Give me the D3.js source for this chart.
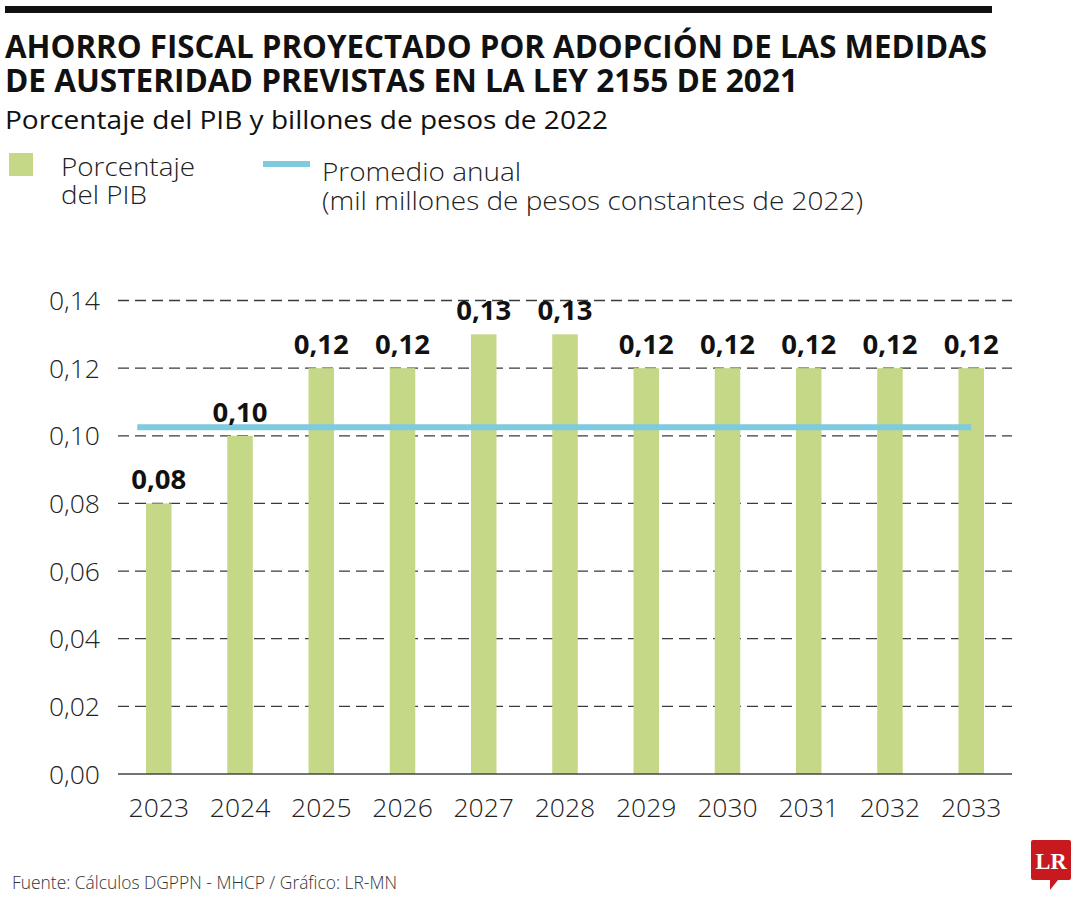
<!DOCTYPE html>
<html>
<head>
<meta charset="utf-8">
<script src="https://cdn.jsdelivr.net/npm/d3@7"></script>
<style>
  html, body { margin: 0; padding: 0; background: #fff; }
  svg { display: block; }
  text { font-family: "Open Sans", "Noto Sans", "DejaVu Sans", sans-serif; }
</style>
</head>
<body>
<svg id="chart" width="1080" height="900"></svg>
<script>
// ---------- data ----------
const years = ["2023","2024","2025","2026","2027","2028","2029","2030","2031","2032","2033"];
const pctPIB = [0.08, 0.10, 0.12, 0.12, 0.13, 0.13, 0.12, 0.12, 0.12, 0.12, 0.12];
const promedioAnual = 0.1025;
const yTicks = [0, 0.02, 0.04, 0.06, 0.08, 0.10, 0.12, 0.14];

const titleLines = [
  "AHORRO FISCAL PROYECTADO POR ADOPCIÓN DE LAS MEDIDAS",
  "DE AUSTERIDAD PREVISTAS EN LA LEY 2155 DE 2021"
];
const subtitle = "Porcentaje del PIB y billones de pesos de 2022";
const legendBar = ["Porcentaje", "del PIB"];
const legendLine = ["Promedio anual", "(mil millones de pesos constantes de 2022)"];
const source = "Fuente: Cálculos DGPPN - MHCP / Gráfico: LR-MN";

// ---------- styles ----------
const barColor = "#c5d887";
const lineColor = "#7ecadf";
const fmt = v => d3.format(".2f")(v).replace(".", ",");

const svg = d3.select("#chart");

// top rule
svg.append("rect").attr("x", 5).attr("y", 6).attr("width", 987).attr("height", 7).attr("fill", "#111");

// title
const titleLens = [982, 793];
titleLines.forEach((t, i) => {
  svg.append("text")
    .attr("x", 5).attr("y", 58 + i * 34)
    .attr("font-size", 33).attr("font-weight", 700).attr("fill", "#111")
    .attr("textLength", titleLens[i]).attr("lengthAdjust", "spacingAndGlyphs")
    .text(t);
});
svg.append("text")
  .attr("x", 5).attr("y", 129)
  .attr("font-size", 26).attr("font-weight", 400).attr("fill", "#111")
  .attr("textLength", 603).attr("lengthAdjust", "spacingAndGlyphs")
  .text(subtitle);

// legend
svg.append("rect").attr("x", 9).attr("y", 153).attr("width", 24).attr("height", 23).attr("fill", barColor);
const lbLens = [134, 86];
legendBar.forEach((t, i) => {
  svg.append("text").attr("x", 61).attr("y", 176 + i * 28)
    .attr("font-size", 25).attr("font-weight", 300).attr("fill", "#222")
    .attr("textLength", lbLens[i]).attr("lengthAdjust", "spacingAndGlyphs")
    .text(t);
});
svg.append("rect").attr("x", 263).attr("y", 161).attr("width", 47).attr("height", 6).attr("fill", lineColor);
const llLens = [199, 541];
legendLine.forEach((t, i) => {
  svg.append("text").attr("x", 322).attr("y", 181 + i * 29)
    .attr("font-size", 25).attr("font-weight", 300).attr("fill", "#222")
    .attr("textLength", llLens[i]).attr("lengthAdjust", "spacingAndGlyphs")
    .text(t);
});

// ---------- scales ----------
const plotLeft = 118, plotRight = 1012;
const x = d3.scaleBand().domain(years).range([plotLeft, plotRight])
  .paddingInner(0.686).paddingOuter(0.345);
const y = d3.scaleLinear().domain([0, 0.14]).range([774, 300.5]);

// gridlines
const grid = svg.append("g");
grid.selectAll("line").data(yTicks.filter(d => d > 0)).join("line")
  .attr("x1", plotLeft).attr("x2", plotRight)
  .attr("y1", d => y(d)).attr("y2", d => y(d))
  .attr("stroke", "#3a3a3a").attr("stroke-width", 1.3)
  .attr("stroke-dasharray", "11,6");

// y tick labels
svg.append("g").selectAll("text").data(yTicks).join("text")
  .attr("x", 100).attr("y", d => y(d) + 9.5)
  .attr("text-anchor", "end")
  .attr("font-size", 26.5).attr("font-weight", 300).attr("fill", "#222")
  .text(d => fmt(d));

// bars
const data = years.map((yr, i) => ({ yr, v: pctPIB[i] }));
svg.append("g").selectAll("rect").data(data).join("rect")
  .attr("x", d => x(d.yr)).attr("width", x.bandwidth())
  .attr("y", d => y(d.v)).attr("height", d => y(0) - y(d.v))
  .attr("fill", barColor);

// baseline
svg.append("line").attr("x1", plotLeft).attr("x2", plotRight)
  .attr("y1", y(0)).attr("y2", y(0))
  .attr("stroke", "#444").attr("stroke-width", 1.5);

// average line
const cx = yr => x(yr) + x.bandwidth() / 2;
svg.append("line")
  .attr("x1", cx(years[0]) - x.step() * 0.265)
  .attr("x2", cx(years[years.length - 1]))
  .attr("y1", y(promedioAnual)).attr("y2", y(promedioAnual))
  .attr("stroke", lineColor).attr("stroke-width", 6);

// value labels
svg.append("g").selectAll("text").data(data).join("text")
  .attr("x", d => cx(d.yr)).attr("y", d => y(d.v) - 14)
  .attr("text-anchor", "middle")
  .attr("font-size", 27.5).attr("font-weight", 700).attr("fill", "#111")
  .text(d => fmt(d.v));

// x labels
svg.append("g").selectAll("text").data(years).join("text")
  .attr("x", d => cx(d)).attr("y", 817)
  .attr("text-anchor", "middle")
  .attr("font-size", 26.5).attr("font-weight", 300).attr("fill", "#222")
  .text(d => d);

// source
svg.append("text").attr("x", 12).attr("y", 889)
  .attr("font-size", 19).attr("font-weight", 300).attr("fill", "#333")
  .attr("textLength", 385).attr("lengthAdjust", "spacingAndGlyphs")
  .text(source);

// logo
const logo = svg.append("g");
logo.append("path")
  .attr("d", "M1033,840 H1069 Q1071,840 1071,842 V878 Q1071,880 1069,880 H1058 L1050,890 L1050,880 H1033 Q1031,880 1031,878 V842 Q1031,840 1033,840 Z")
  .attr("fill", "#c8191f");
logo.append("text").attr("x", 1051).attr("y", 869)
  .attr("text-anchor", "middle")
  .style("font-family", "'Liberation Serif', 'DejaVu Serif', serif")
  .attr("font-size", 23).attr("font-weight", 700).attr("fill", "#fff")
  .attr("textLength", 31).attr("lengthAdjust", "spacingAndGlyphs")
  .text("LR");
</script>
</body>
</html>
